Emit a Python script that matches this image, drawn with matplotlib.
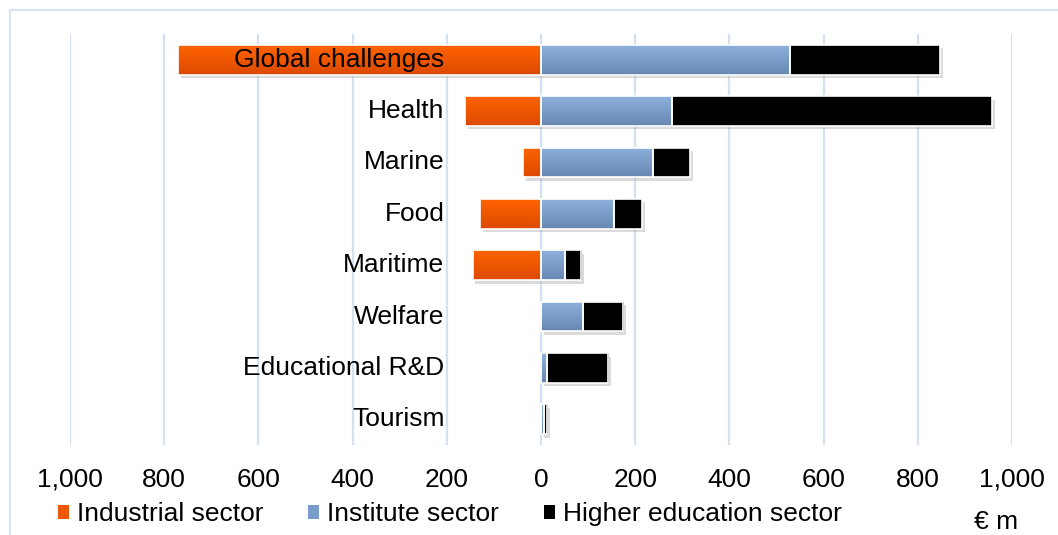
import numpy as np
import matplotlib
matplotlib.use("Agg")
import matplotlib.pyplot as plt
from matplotlib.patches import Patch
from matplotlib.lines import Line2D
from matplotlib.colors import LinearSegmentedColormap
import matplotlib.patheffects as pe

plt.rcParams['font.family'] = ['Liberation Sans', 'DejaVu Sans']

# -----------------------------
# data (€ m)
# -----------------------------
categories = ["Global challenges", "Health", "Marine", "Food", "Maritime",
              "Welfare", "Educational R&D", "Tourism"]
industrial = [771, 161, 38, 129, 145, 0, 0, 0]      # drawn to the left
institute = [529, 278, 238, 155, 51, 89, 12, 6]
higher_ed = [318, 679, 78, 59, 34, 85, 130, 7]
tick_values = [-1000, -800, -600, -400, -200, 0, 200, 400, 600, 800, 1000]
tick_labels = ["1,000", "800", "600", "400", "200", "0", "200", "400", "600", "800", "1,000"]
series_names = ["Industrial sector", "Institute sector", "Higher education sector"]

W, H = 1058, 535
FS = 19
fig = plt.figure(figsize=(W / 100, H / 100), dpi=100)
ax = fig.add_axes([70 / W, 1 - 445 / H, 942 / W, 411 / H])

y = np.arange(len(categories))
ind = -np.array(industrial, dtype=float)
ins = np.array(institute, dtype=float)
he = np.array(higher_ed, dtype=float)

# gradient colours (top -> bottom)
grads = [("#ff6300", "#dc4a00"), ("#8db0de", "#6888b2"), ("#000000", "#000000")]
shadow = [pe.SimplePatchShadow(offset=(2, -2.5), shadow_rgbFace="#9a9a9a", alpha=0.35), pe.Normal()]

bh = 0.58
layers = [(ind, 0), (ins, 0), (he, ins)]
for (width, left), (c1, c2) in zip(layers, grads):
    bars = ax.barh(y, width, left=left, height=bh, color=c2, edgecolor="none",
                   zorder=2, path_effects=shadow)
    cmap = LinearSegmentedColormap.from_list("g", [c1, c2])
    for p in bars.patches:
        x0, y0 = p.get_x(), p.get_y()
        w, h = p.get_width(), p.get_height()
        if w == 0:
            continue
        im = ax.imshow(np.linspace(0, 1, 50).reshape(-1, 1),
                       extent=[x0, x0 + w, y0 + h, y0], origin="upper",
                       aspect="auto", cmap=cmap, zorder=2.5, interpolation="bilinear")
        im.set_clip_path(p)
    ax.barh(y, width, left=left, height=bh, facecolor="none",
            edgecolor="white", linewidth=1.2, zorder=3)

# category labels, right aligned left of zero
for yi, name in zip(y, categories):
    ax.text(-205, yi, name, ha="right", va="center", fontsize=FS, zorder=5)

ax.set_xlim(-1000, 1000)
ax.set_ylim(len(categories) - 0.5, -0.5)
ax.set_xticks(tick_values)
ax.set_xticklabels(tick_labels, fontsize=FS)
ax.set_yticks([])
ax.tick_params(axis="x", length=0, pad=16.5)
ax.grid(axis="x", color="#d3e1f4", linewidth=1.6, zorder=0)
ax.set_axisbelow(True)
for s in ax.spines.values():
    s.set_visible(False)
ax.patch.set_alpha(0)

# outer frame (left and top only visible)
frame_c = "#d9e5f5"
fig.add_artist(Line2D([10 / W, 10 / W], [1 - 10 / H, 0], color=frame_c, lw=1.6, transform=fig.transFigure))
fig.add_artist(Line2D([10 / W, 1], [1 - 10 / H, 1 - 10 / H], color=frame_c, lw=1.6, transform=fig.transFigure))

# legend
handles = [Patch(facecolor="#f05500", edgecolor="none"),
           Patch(facecolor="#7a9ccb", edgecolor="none"),
           Patch(facecolor="#000000", edgecolor="none")]
fig.legend(handles, series_names, loc="center left", bbox_to_anchor=(58 / W, 1 - 514 / H),
           ncol=3, frameon=False, fontsize=FS, handlelength=0.42, handleheight=0.45,
           handletextpad=0.3, columnspacing=1.7, borderpad=0, borderaxespad=0)

fig.text(996 / W, 1 - 522 / H, "€ m", ha="center", va="center", fontsize=FS)

fig.savefig("out.png", dpi=100)
